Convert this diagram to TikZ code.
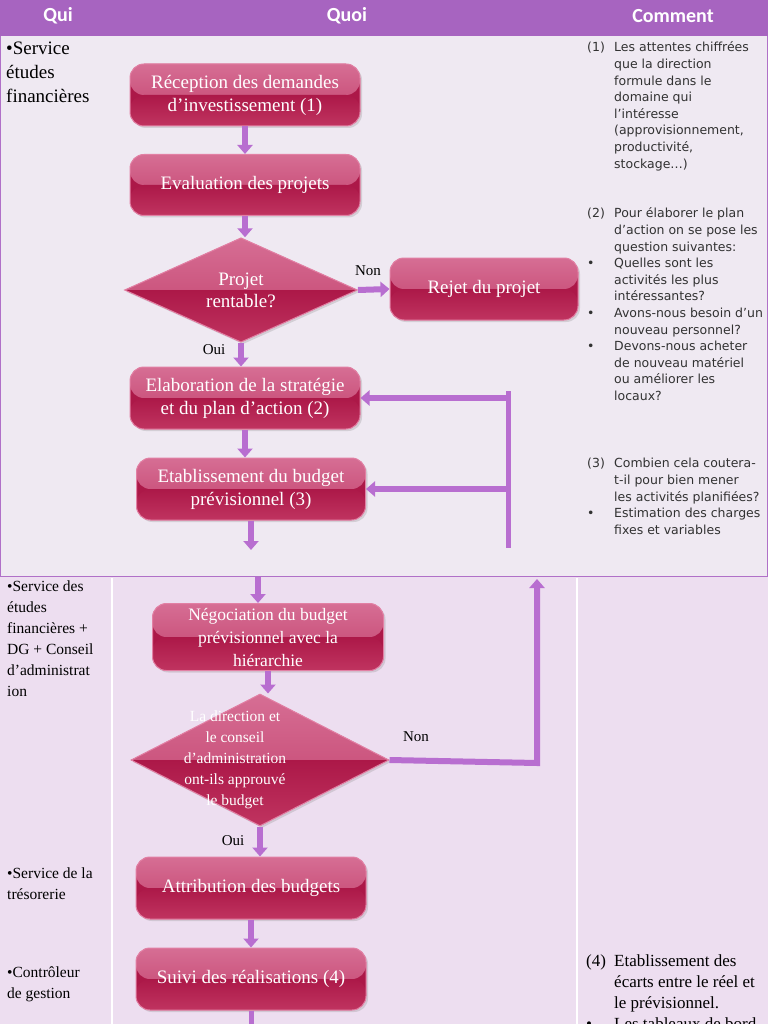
\documentclass[tikz,border=0pt]{standalone}
\usepackage{fontspec}
\setmainfont{Liberation Serif}
\newfontfamily\hdfont{Carlito}
\newfontfamily\cmfont{DejaVu Sans}
\usetikzlibrary{shapes.geometric,arrows.meta,shadows}
\definecolor{hdr}{RGB}{167,100,192}
\definecolor{rowA}{RGB}{239,233,242}
\definecolor{rowB}{RGB}{237,222,240}
\definecolor{bord}{RGB}{176,112,200}
\definecolor{arrc}{RGB}{184,110,208}
\definecolor{gA}{RGB}{214,110,148}
\definecolor{gB}{RGB}{194,62,106}
\definecolor{gC}{RGB}{172,24,72}
\definecolor{gD}{RGB}{192,52,96}
\definecolor{gE}{RGB}{226,128,164}
\definecolor{cmtext}{RGB}{50,50,50}
\tikzset{
  gloss/.style={fill=gC, draw=gE, line width=1pt,
    drop shadow={opacity=0.25, shadow xshift=2pt, shadow yshift=-2pt},
    path picture={
      \shade[top color=gA, bottom color=gB] (path picture bounding box.north west) rectangle (path picture bounding box.east);
      \shade[top color=gC, bottom color=gD] (path picture bounding box.west) rectangle (path picture bounding box.south east);
    }},
  pbox/.style={gloss, rectangle, rounded corners=14pt, inner sep=0pt, align=center,
    text=white, font=\fontsize{19}{23}\selectfont},
  pdiam/.style={gloss, diamond, inner sep=0pt, align=center,
    text=white, font=\fontsize{19}{22}\selectfont},
  arr/.style={line width=6pt, draw=arrc, -{Triangle[width=15pt,length=9pt]}},
  bar/.style={line width=5pt, draw=arrc},
  hd/.style={text=white, font=\hdfont\bfseries\fontsize{20}{24}\selectfont, inner sep=0pt},
  qui/.style={anchor=north west, inner sep=0pt, align=left, text=black},
  cmt/.style={anchor=north west, inner sep=0pt, text=cmtext, font=\cmfont\fontsize{12.5}{16.6}\selectfont},
  lbl/.style={inner sep=0pt, text=black, font=\fontsize{15}{18}\selectfont}
}
\begin{document}
\begin{tikzpicture}[x=1pt,y=-1pt]
\useasboundingbox (0,0) rectangle (768,1024);
% table background
\fill[rowA] (0,36) rectangle (768,576);
\fill[rowB] (0,576) rectangle (768,1024);
\draw[white, line width=1.5pt] (112,578) -- (112,1024);
\draw[white, line width=1.5pt] (577,578) -- (577,1024);
\draw[bord, line width=1pt] (0.5,36) -- (0.5,576.5) -- (767.5,576.5) -- (767.5,36);
\fill[hdr] (0,0) rectangle (768,36);
% header
\node[hd] (hqui) at (58,16) {Qui};
\node[hd] (hquoi) at (347,16) {Quoi};
\node[hd] (hcomment) at (673,16) {Comment};
% qui column
\node[qui, font=\fontsize{19}{24}\selectfont] (q1) at (6,42) {•Service\\études\\financières};
\node[qui, font=\fontsize{15.5}{21}\selectfont] (q2) at (7,581) {•Service des\\études\\financières +\\DG + Conseil\\d’administrat\\ion};
\node[qui, font=\fontsize{15.5}{21}\selectfont] (q3) at (7,868) {•Service de la\\trésorerie};
\node[qui, font=\fontsize{15.5}{21}\selectfont] (q4) at (7,967) {•Contrôleur\\de gestion};
% comment column
\node[cmt] (c1) at (587,40) {\begin{tabular}{@{}p{27pt}@{}l@{}}
(1)&Les attentes chiffrées\\
&que la direction\\
&formule dans le\\
&domaine qui\\
&l’intéresse\\
&(approvisionnement,\\
&productivité,\\
&stockage…)
\end{tabular}};
\node[cmt] (c2) at (587,206) {\begin{tabular}{@{}p{27pt}@{}l@{}}
(2)&Pour élaborer le plan\\
&d’action on se pose les\\
&question suivantes:\\
•&Quelles sont les\\
&activités les plus\\
&intéressantes?\\
•&Avons-nous besoin d’un\\
&nouveau personnel?\\
•&Devons-nous acheter\\
&de nouveau matériel\\
&ou améliorer les\\
&locaux?
\end{tabular}};
\node[cmt] (c3) at (587,456) {\begin{tabular}{@{}p{27pt}@{}l@{}}
(3)&Combien cela coutera-\\
&t-il pour bien mener\\
&les activités planifiées?\\
•&Estimation des charges\\
&fixes et variables
\end{tabular}};
\node[anchor=north west, inner sep=0pt, text=black, font=\fontsize{17}{21}\selectfont] (c4) at (586,952) {\begin{tabular}{@{}p{28pt}@{}l@{}}
(4)&Etablissement des\\
&écarts entre le réel et\\
&le prévisionnel.\\
•&Les tableaux de bord
\end{tabular}};
% flow nodes
\node[pbox, minimum width=230pt, minimum height=62pt] (rec) at (245,95) {Réception des demandes\\d’investissement (1)};
\node[pbox, minimum width=230pt, minimum height=61pt] (eval) at (245,185) {Evaluation des projets};
\node[pdiam, minimum width=233pt, minimum height=84pt] (proj) at (241,290) {Projet\\rentable?};
\node[pbox, minimum width=188pt, minimum height=62pt] (rejet) at (484,289) {Rejet du projet};
\node[pbox, minimum width=230pt, minimum height=62pt] (elab) at (245,398) {Elaboration de la stratégie\\et du plan d’action (2)};
\node[pbox, minimum width=229pt, minimum height=62pt] (etab) at (251,489) {Etablissement du budget\\prévisionnel (3)};
\node[pbox, minimum width=231pt, minimum height=67pt, font=\fontsize{17.5}{23}\selectfont] (nego) at (268,637) {Négociation du budget\\prévisionnel avec la\\hiérarchie};
\node[pdiam, minimum width=258pt, minimum height=132pt] (dir) at (260,760) {};
\node[inner sep=0pt, align=center, text=white, font=\fontsize{15.5}{21}\selectfont] (dirtxt) at (235,760) {La direction et\\le conseil\\d’administration\\ont-ils approuvé\\le budget};
\node[pbox, minimum width=230pt, minimum height=62pt] (attr) at (251,888) {Attribution des budgets};
\node[pbox, minimum width=230pt, minimum height=62pt] (suivi) at (251,979) {Suivi des réalisations (4)};
% labels
\node[lbl] (non1) at (368,271) {Non};
\node[lbl] (oui1) at (214,350) {Oui};
\node[lbl] (non2) at (416,737) {Non};
\node[lbl] (oui2) at (233,841) {Oui};
% free ends
\coordinate (e1) at (245,550);
\coordinate (n0) at (258,577);
\coordinate (s1) at (251,1026);
\coordinate (fb1) at (537,763);
\coordinate (fb2) at (537,579);
\coordinate (t1) at (508,391);
\coordinate (t2) at (508,548);
% connectors
\draw[arr] (rec.south) -- (rec.south |- eval.north);
\draw[arr] (eval.south) -- (eval.south |- proj.north);
\draw[arr] (proj.east) -- (rejet.west);
\draw[arr] (proj.south) -- (proj.south |- elab.north);
\draw[arr] (elab.south) -- (elab.south |- etab.north);
\draw[arr] (etab.south) -- (etab.south |- e1);
\draw[arr] (n0) -- (n0 |- nego.north);
\draw[arr] (nego.south) -- (nego.south |- dir.north);
\draw[arr] (dir.south) -- (dir.south |- attr.north);
\draw[arr] (attr.south) -- (attr.south |- suivi.north);
\draw[bar] (suivi.south) -- (s1);
\draw[arr] (dir.east) -- (fb1) -- (fb2);
\draw[bar] (t1) -- (t2);
\draw[arr] (t1 |- elab.east) -- (elab.east);
\draw[arr] (t1 |- etab.east) -- (etab.east);
\end{tikzpicture}
\end{document}
